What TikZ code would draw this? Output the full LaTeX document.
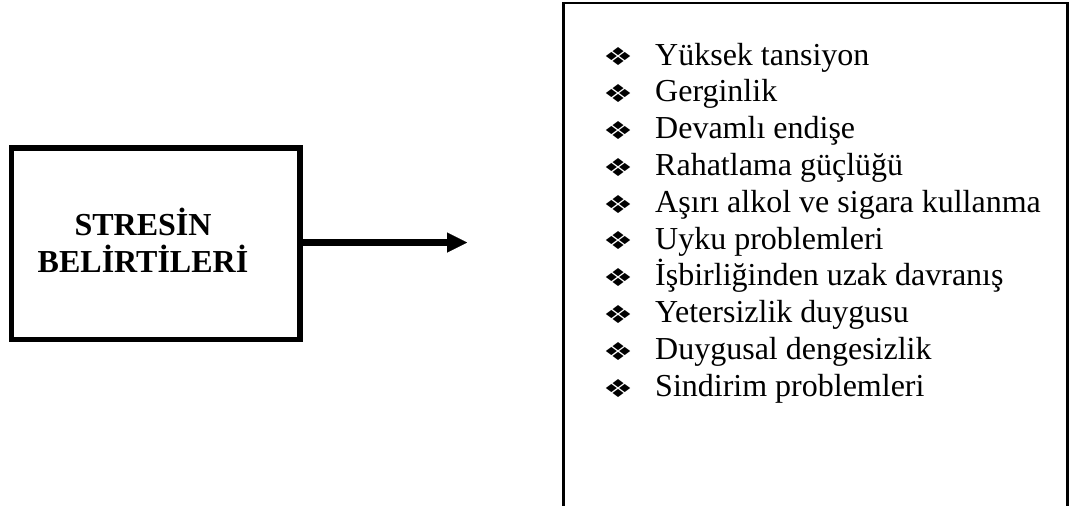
\documentclass[tikz,border=0pt]{standalone}
\usepackage{fontspec}
\setmainfont{Liberation Serif}
\newfontfamily\symfont{DejaVu Sans}
\usetikzlibrary{arrows.meta}
\begin{document}
\begin{tikzpicture}[x=1pt,y=-1pt,
  heavybox/.style={draw=black, line width=5.5pt, minimum width=288.5pt,
    minimum height=191.5pt, inner sep=0pt},
  listframe/.style={draw=black, line width=2.5pt, minimum width=504pt,
    minimum height=517pt, inner sep=0pt},
  title/.style={font=\fontsize{32}{37.5}\selectfont\bfseries, align=center,
    inner sep=0pt},
  entry/.style={font=\fontsize{32}{36.8}\selectfont, inner sep=0pt,
    anchor=base west},
  bulletsym/.style={inner sep=0pt, anchor=center},
  pointer/.style={line width=7.5pt,
    -{Triangle[length=20pt,width=20pt,line width=0.01pt]}}]
  \useasboundingbox (0,0) rectangle (1071,506);

  % left box with its heading
  \node[heavybox] (box) at (155.75,243.75) {};
  \node[title, anchor=base] (head) at (143,272.5) {STRESİN\\BELİRTİLERİ};

  % arrow towards the list
  \coordinate (tip) at (467,242.5);
  \draw[pointer] (box.east |- tip) -- (tip);

  % right frame, running past the lower edge
  \node[listframe] (frame) at (815.5,261.5) {};

  % bulleted list
  \foreach \t [count=\i from 0] in {Yüksek tansiyon, Gerginlik,
      Devamlı endişe, Rahatlama güçlüğü, Aşırı alkol ve sigara kullanma,
      Uyku problemleri, İşbirliğinden uzak davranış, Yetersizlik duygusu,
      Duygusal dengesizlik, Sindirim problemleri} {
    \node[entry] (item\i) at (655,65+36.8*\i) {\t};
    \node[bulletsym] (dot\i) at (618,57+36.8*\i)
      {\resizebox{30pt}{18pt}{\symfont ❖}};
  }
\end{tikzpicture}
\end{document}
